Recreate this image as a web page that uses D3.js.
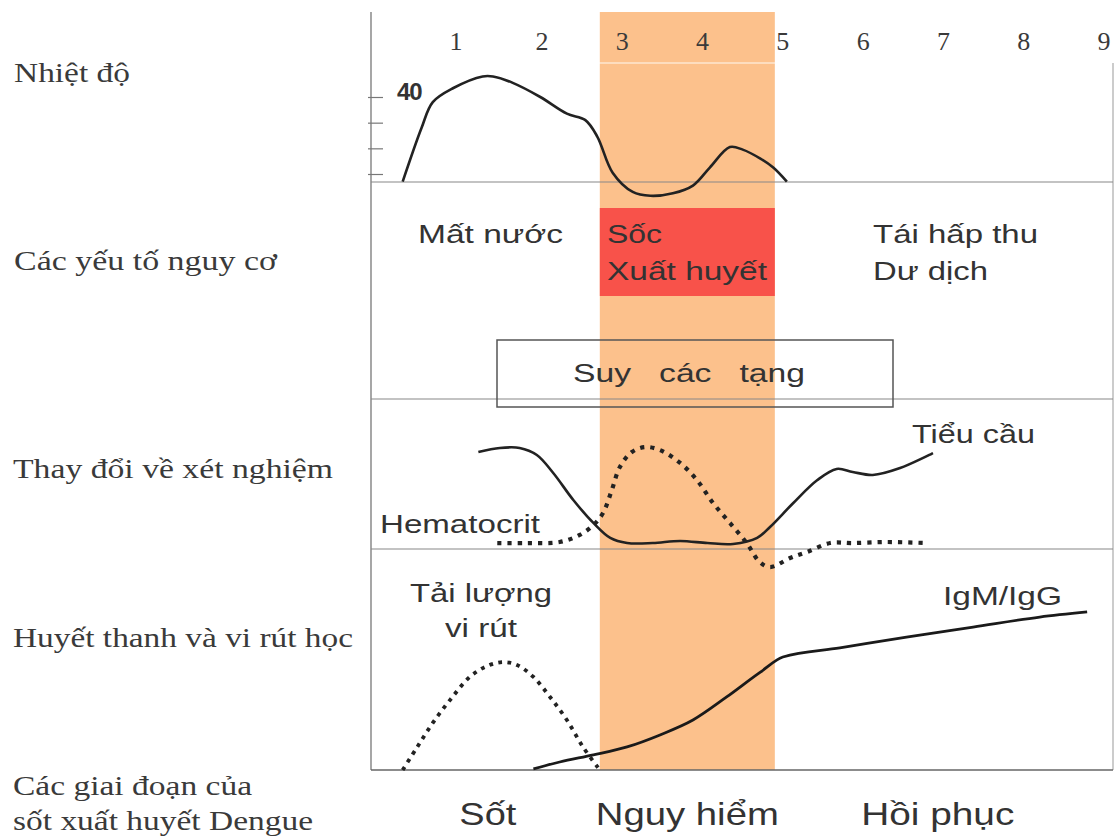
<!DOCTYPE html>
<html>
<head>
<meta charset="utf-8">
<script src="https://cdn.jsdelivr.net/npm/d3@7"></script>
<style>
    body { margin: 0; background: #fff; }
    text { font-family: "Liberation Sans", Arial, sans-serif; fill: #333; }
    .serif { font-family: "Liberation Serif", "Times New Roman", serif; fill: #3a3a3a; }
</style>
</head>
<body>
<svg id="svg_dengue" width="1115" height="839"></svg>
<script>
// ngày bệnh (trục trên)
let dayTicks = [1, 2, 3, 4, 5, 6, 7, 8, 9];

// nhãn các hàng bên trái
let rowLabels = ['Nhiệt độ', 'Các yếu tố nguy cơ', 'Thay đổi về xét nghiệm',
    'Huyết thanh và vi rút học', 'Các giai đoạn của', 'sốt xuất huyết Dengue'];

// các giai đoạn
let phaseNames = ['Sốt', 'Nguy hiểm', 'Hồi phục'];
let phaseCenters = [1.37, 3.81, 6.93];
let criticalPhase = [2.72, 4.9];

// nhiệt độ (ngày, độ C)
let tempDays = [0.38, 0.6, 0.73, 0.97, 1.31, 1.43, 1.66, 1.98, 2.31, 2.54, 2.69, 2.88, 3.13, 3.35, 3.63, 3.88, 4.09, 4.34, 4.5, 4.72, 4.88, 5.05];
let tempValues = [36.7, 38.8, 39.8, 40.35, 40.8, 40.8, 40.55, 40.0, 39.35, 39.1, 38.45, 37.05, 36.3, 36.15, 36.25, 36.55, 37.25, 38.05, 37.95, 37.6, 37.25, 36.7];
let tempTicks = [37, 38, 39, 40];

// tiểu cầu (tương đối)
let plateletDays = [1.26, 1.51, 1.74, 1.94, 2.14, 2.39, 2.64, 2.85, 3.06, 3.38, 3.72, 4.06, 4.38, 4.68, 4.84, 5.13, 5.43, 5.67, 5.87, 6.12, 6.46, 6.87];
let plateletValues = [64, 66.7, 66.7, 62, 50, 32, 16.7, 6.7, 3.3, 3.3, 4.7, 3.3, 2.7, 6.7, 14, 30, 45.3, 52.7, 50.7, 48.7, 53.3, 63.3];

// hematocrit (tương đối)
let hctDays = [1.48, 1.83, 2.22, 2.47, 2.64, 2.76, 2.87, 2.97, 3.12, 3.28, 3.47, 3.72, 3.93, 4.13, 4.34, 4.55, 4.71, 4.84, 5.09, 5.3, 5.59, 5.87, 6.3, 6.79];
let hctValues = [3.3, 3.3, 4, 8.7, 15.3, 23.3, 38.7, 54, 64, 67.3, 65.3, 56.7, 45.3, 30, 16.7, 3.3, -9.3, -12.7, -6.7, -2.7, 3.3, 3.3, 4, 3.3];

// tải lượng vi rút (tương đối)
let viralDays = [0.38, 0.55, 0.73, 0.93, 1.16, 1.36, 1.54, 1.71, 1.9, 2.1, 2.31, 2.51, 2.72];
let viralValues = [0, 10.4, 21.2, 31.5, 41.9, 46.8, 48.6, 47.3, 41.9, 32.9, 22.5, 10.4, 0];

// IgM/IgG (tương đối)
let igDays = [1.9, 2.22, 2.64, 3.06, 3.47, 3.88, 4.3, 4.72, 5.0, 5.71, 6.54, 7.37, 8.2, 8.79];
let igValues = [0.5, 3.6, 6.8, 10.4, 15.8, 22.5, 32.9, 44.1, 50.9, 55, 59.9, 64.4, 68.9, 71.2];

let svg = d3.select('#svg_dengue');

let axisX = 371, rightX = 1113;
let rowY = [182, 399, 549, 770];

let x = d3.scaleLinear().domain([1, 2, 9]).range([456, 542, 1104]);
let yTemp = d3.scaleLinear().domain([37, 40]).range([174, 97]);
let yLab = d3.scaleLinear().domain([0, 100]).range([548, 398]);
let ySero = d3.scaleLinear().domain([0, 100]).range([770, 548]);

// vùng nguy hiểm
svg.append('rect')
    .attr('x', x(criticalPhase[0]))
    .attr('y', 12)
    .attr('width', x(criticalPhase[1]) - x(criticalPhase[0]))
    .attr('height', 770 - 12)
    .attr('fill', '#fcc18c');

svg.append('line')
    .attr('x1', axisX).attr('x2', rightX)
    .attr('y1', 63).attr('y2', 63)
    .attr('stroke', '#fff').attr('stroke-opacity', 0.6).attr('stroke-width', 1.5);

svg.append('rect')
    .attr('x', x(criticalPhase[0]))
    .attr('y', 208)
    .attr('width', x(criticalPhase[1]) - x(criticalPhase[0]))
    .attr('height', 88)
    .attr('fill', '#f8524a');

// khung
svg.append('line')
    .attr('x1', axisX).attr('x2', axisX).attr('y1', 12).attr('y2', 770)
    .attr('stroke', '#777').attr('stroke-width', 1.3);
svg.append('line')
    .attr('x1', rightX).attr('x2', rightX).attr('y1', 63).attr('y2', 770)
    .attr('stroke', '#999').attr('stroke-width', 1);
svg.append('g').selectAll('line').data(rowY).enter()
    .append('line')
    .attr('x1', axisX).attr('x2', rightX)
    .attr('y1', d => d).attr('y2', d => d)
    .attr('stroke', (d, i) => i == 3 ? '#666' : '#888')
    .attr('stroke-width', (d, i) => i == 3 ? 1.6 : 1.2);

// ô suy các tạng
svg.append('rect')
    .attr('x', 497).attr('y', 340)
    .attr('width', 396).attr('height', 67)
    .attr('fill', 'none')
    .attr('stroke', '#555')
    .attr('stroke-width', 1.5);

// trục nhiệt độ
let tempAxis = d3.axisRight(yTemp)
    .tickValues(tempTicks)
    .tickSize(12)
    .tickPadding(14)
    .tickFormat(d => d == 40 ? '40' : '');
let gAxis = svg.append('g')
    .attr('transform', 'translate(' + axisX + ',0)')
    .call(tempAxis);
gAxis.select('.domain').remove();
gAxis.selectAll('line').attr('stroke', '#777').attr('stroke-width', 1.2).attr('x1', -3);
gAxis.selectAll('text')
    .attr('font-size', 24)
    .attr('font-weight', 'bold')
    .attr('font-family', '"Liberation Sans", Arial, sans-serif')
    .attr('letter-spacing', -1)
    .attr('fill', '#222')
    .attr('dy', '0.1em');

// số ngày
svg.append('g').selectAll('text').data(dayTicks).enter()
    .append('text')
    .attr('class', 'serif')
    .attr('x', d => x(d))
    .attr('y', 50)
    .attr('font-size', 26)
    .attr('text-anchor', 'middle')
    .text(d => d);

// nhãn hàng
let rowPos = [[14, 82, 116], [14, 270, 263], [13, 478, 320], [13, 647, 340], [13, 795, 239], [13, 830, 300]];
svg.append('g').selectAll('text').data(rowLabels).enter()
    .append('text')
    .attr('class', 'serif')
    .attr('x', (d, i) => rowPos[i][0])
    .attr('y', (d, i) => rowPos[i][1])
    .attr('font-size', 27)
    .attr('textLength', (d, i) => rowPos[i][2])
    .attr('lengthAdjust', 'spacingAndGlyphs')
    .text(d => d);

// các đường
let lineTemp = d3.line()
    .x((d, i) => x(tempDays[i]))
    .y(d => yTemp(d))
    .curve(d3.curveCatmullRom.alpha(0.5));
svg.append('path')
    .attr('d', lineTemp(tempValues))
    .attr('fill', 'none')
    .attr('stroke', '#222')
    .attr('stroke-width', 2.6);

let lineLab = (days) => d3.line()
    .x((d, i) => x(days[i]))
    .y(d => yLab(d))
    .curve(d3.curveCatmullRom.alpha(0.5));
svg.append('path')
    .attr('d', lineLab(plateletDays)(plateletValues))
    .attr('fill', 'none')
    .attr('stroke', '#222')
    .attr('stroke-width', 2.6);
svg.append('path')
    .attr('d', lineLab(hctDays)(hctValues))
    .attr('fill', 'none')
    .attr('stroke', '#222')
    .attr('stroke-width', 4.2)
    .attr('stroke-dasharray', '4.2 6');

let lineSero = (days, curve) => d3.line()
    .x((d, i) => x(days[i]))
    .y(d => ySero(d))
    .curve(curve);
svg.append('path')
    .attr('d', lineSero(viralDays, d3.curveCatmullRom.alpha(0.5))(viralValues))
    .attr('fill', 'none')
    .attr('stroke', '#222')
    .attr('stroke-width', 3.8)
    .attr('stroke-dasharray', '3.8 5.4');
svg.append('path')
    .attr('d', lineSero(igDays, d3.curveMonotoneX)(igValues))
    .attr('fill', 'none')
    .attr('stroke', '#1a1a1a')
    .attr('stroke-width', 2.8);

// chú thích
let notes = [
    ['Mất nước', 418, 243, 145, 26, '#333'],
    ['Sốc', 607, 243, 55, 26, '#6e2621'],
    ['Xuất huyết', 607, 280, 160, 26, '#6e2621'],
    ['Tái hấp thu', 873, 243, 165, 26, '#333'],
    ['Dư dịch', 873, 280, 115, 26, '#333'],
    ['Suy   các   tạng', 573, 382, 232, 26, '#333'],
    ['Tiểu cầu', 912, 443, 123, 26, '#333'],
    ['Hematocrit', 380, 533, 160, 26, '#333'],
    ['Tải lượng', 410, 602, 142, 26, '#333'],
    ['vi rút', 445, 637, 72, 26, '#333'],
    ['IgM/IgG', 943, 605, 119, 26, '#333']
];
svg.append('g').selectAll('text').data(notes).enter()
    .append('text')
    .attr('x', d => d[1])
    .attr('y', d => d[2])
    .attr('font-size', d => d[4])
    .attr('textLength', d => d[3])
    .attr('lengthAdjust', 'spacingAndGlyphs')
    .attr('fill', d => d[5])
    .style('white-space', 'pre')
    .attr('xml:space', 'preserve')
    .text(d => d[0]);

// giai đoạn
let phaseWidth = [57, 183, 153];
svg.append('g').selectAll('text').data(phaseNames).enter()
    .append('text')
    .attr('x', (d, i) => x(phaseCenters[i]) - phaseWidth[i] / 2)
    .attr('y', 825)
    .attr('font-size', 32)
    .attr('textLength', (d, i) => phaseWidth[i])
    .attr('lengthAdjust', 'spacingAndGlyphs')
    .attr('fill', '#333')
    .text(d => d);
</script>
</body>
</html>
